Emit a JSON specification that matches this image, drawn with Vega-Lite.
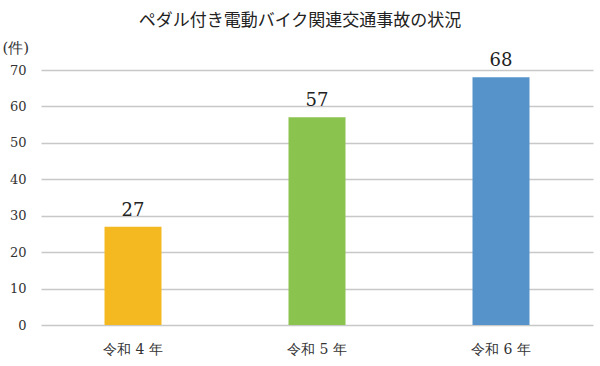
{
  "$schema": "https://vega.github.io/schema/vega-lite/v6.json",
  "autosize": {"type": "none"},
  "padding": {"left": 41, "top": 70, "right": 7, "bottom": 41},
  "width": 552,
  "height": 255,
  "background": "#ffffff",
  "title": {
    "text": "ペダル付き電動バイク関連交通事故の状況",
    "font": "Noto Sans CJK JP",
    "fontSize": 17,
    "fontWeight": "normal",
    "color": "#222222",
    "anchor": "middle",
    "frame": "group",
    "dx": -17,
    "offset": 10
  },
  "config": {"view": {"stroke": null}},
  "data": {
    "values": [
      {"year": "令和 4 年", "count": 27},
      {"year": "令和 5 年", "count": 57},
      {"year": "令和 6 年", "count": 68}
    ]
  },
  "encoding": {
    "x": {
      "field": "year",
      "type": "nominal",
      "sort": null,
      "scale": {"paddingInner": 0, "paddingOuter": 0},
      "axis": {
        "title": null,
        "labelAngle": 0,
        "labelFont": "DejaVu Serif",
        "labelFontSize": 14,
        "labelColor": "#333333",
        "labelPadding": 17,
        "ticks": false,
        "domain": false
      }
    },
    "y": {
      "field": "count",
      "type": "quantitative",
      "scale": {"domain": [0, 70]},
      "axis": {
        "values": [0, 10, 20, 30, 40, 50, 60, 70],
        "title": "(件)",
        "titleAngle": 0,
        "titleFont": "DejaVu Serif",
        "titleFontSize": 15,
        "titleFontWeight": "normal",
        "titleColor": "#333333",
        "titleAlign": "left",
        "titleBaseline": "middle",
        "titleX": -39,
        "titleY": -23,
        "labelFont": "DejaVu Serif",
        "labelFontSize": 13,
        "labelColor": "#333333",
        "labelPadding": 15,
        "ticks": false,
        "domain": false,
        "grid": true,
        "gridColor": "#c8c8c8",
        "gridWidth": 1.5
      }
    }
  },
  "layer": [
    {
      "mark": {"type": "bar", "size": 57},
      "encoding": {
        "color": {
          "field": "year",
          "type": "nominal",
          "legend": null,
          "scale": {
            "domain": ["令和 4 年", "令和 5 年", "令和 6 年"],
            "range": ["#F4B920", "#8BC34F", "#5593CA"]
          }
        }
      }
    },
    {
      "mark": {
        "type": "text",
        "baseline": "bottom",
        "dy": -7,
        "font": "DejaVu Serif",
        "fontSize": 18,
        "color": "#222222"
      },
      "encoding": {"text": {"field": "count", "type": "quantitative"}}
    }
  ]
}
